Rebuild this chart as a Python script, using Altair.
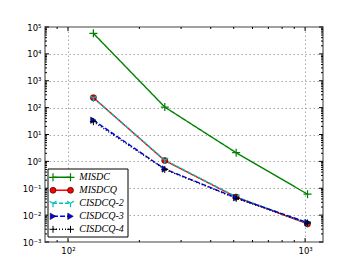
import altair as alt
import pandas as pd

# ---- data ----
ns = [128, 256, 512, 1024]
series_names = ["MISDC", "MISDCQ", "CISDCQ-2", "CISDCQ-3", "CISDCQ-4"]
misdc = [5.8e4, 105, 2.1, 0.060]
misdcq = [235, 1.07, 0.047, 0.0047]
cisdcq2 = [228, 1.12, 0.048, 0.0049]
cisdcq3 = [34, 0.52, 0.044, 0.0053]
cisdcq4 = [30, 0.50, 0.042, 0.0051]

y_major = [1e-3, 1e-2, 1e-1, 1e0, 1e1, 1e2, 1e3, 1e4, 1e5]
y_labels = ["10⁻³", "10⁻²", "10⁻¹", "10⁰", "10¹", "10²", "10³", "10⁴", "10⁵"]
x_major = [100, 1000]
x_labels = ["10²", "10³"]
mantissas = [2, 3, 4, 5, 6, 7, 8, 9]
y_decades = [1e-3, 1e-2, 1e-1, 1e0, 1e1, 1e2, 1e3, 1e4]
x_minor = [90, 200, 300, 400, 500, 600, 700, 800, 900]

colors = ["#008000", "#ff0000", "#00bfbf", "#0000ff", "#000000"]
dashes = [[1, 0], [1, 0], [4, 2], [5, 2], [1, 2]]

rows = []
for name, vals in zip(series_names, [misdc, misdcq, cisdcq2, cisdcq3, cisdcq4]):
    for n, v in zip(ns, vals):
        rows.append({"n": n, "err": v, "series": name})
df = pd.DataFrame(rows)

y_minor = [m * d for d in y_decades for m in mantissas]
ymaj_df = pd.DataFrame({"v": y_major})
ymin_df = pd.DataFrame({"v": y_minor})
xmaj_df = pd.DataFrame({"v": x_major})
xmin_df = pd.DataFrame({"v": x_minor})

W, H = 278, 215
xscale = alt.Scale(type="log", domain=[80, 1190], nice=False)
yscale = alt.Scale(type="log", domain=[1e-3, 1e5], nice=False)


def label_expr(values, labels):
    expr = f"'{labels[-1]}'"
    for v, lab in reversed(list(zip(values[:-1], labels[:-1]))):
        expr = f"datum.value < {v * 1.5} ? '{lab}' : ({expr})"
    return expr


axis_common = dict(grid=True, gridDash=[1.5, 2.5], gridColor="#a8a8a8", gridWidth=1,
                   ticks=False, domain=False, labelFont="DejaVu Sans",
                   labelFontSize=8.5, labelColor="black")

lines = alt.Chart(df).mark_line(strokeWidth=1.4).encode(
    x=alt.X("n:Q", scale=xscale, title="",
            axis=alt.Axis(values=x_major, labelPadding=4,
                          labelExpr=label_expr(x_major, x_labels),
                          **axis_common)),
    y=alt.Y("err:Q", scale=yscale, title="",
            axis=alt.Axis(values=y_major, labelPadding=4,
                          labelExpr=label_expr(y_major, y_labels),
                          **axis_common)),
    color=alt.Color("series:N", sort=series_names,
                    scale=alt.Scale(domain=series_names, range=colors),
                    legend=None),
    strokeDash=alt.StrokeDash("series:N", sort=series_names,
                              scale=alt.Scale(domain=series_names, range=dashes),
                              legend=None),
    order=alt.Order("n:Q"),
)

plus_p = "M-1,0H1M0,-1V1"
tri_p = "M0,0V1M0,0L-0.87,-0.5M0,0L0.87,-0.5"
marker_styles = [
    dict(shape=plus_p, fill="transparent", stroke="#008000", size=64, strokeWidth=1.2),
    dict(shape="circle", fill="#ff0000", stroke="#000000", size=36, strokeWidth=0.6),
    dict(shape=tri_p, fill="transparent", stroke="#00bfbf", size=64, strokeWidth=1.2),
    dict(shape="triangle-right", fill="#0000ff", stroke="#000000", size=40, strokeWidth=0.6),
    dict(shape=plus_p, fill="transparent", stroke="#000000", size=49, strokeWidth=1.0),
]
point_layers = []
for name, st in zip(series_names, marker_styles):
    point_layers.append(
        alt.Chart(df).transform_filter(alt.datum.series == name)
        .mark_point(opacity=1, **st).encode(
            x=alt.X("n:Q", scale=xscale),
            y=alt.Y("err:Q", scale=yscale),
        )
    )


def yticks(data, length):
    left = alt.Chart(data).mark_rule(color="black", strokeWidth=1).encode(
        y=alt.Y("v:Q", scale=yscale),
        x=alt.value(0), x2=alt.value(length))
    right = alt.Chart(data).mark_rule(color="black", strokeWidth=1).encode(
        y=alt.Y("v:Q", scale=yscale),
        x=alt.value(W), x2=alt.value(W - length))
    return [left, right]


def xticks(data, length):
    bottom = alt.Chart(data).mark_rule(color="black", strokeWidth=1).encode(
        x=alt.X("v:Q", scale=xscale),
        y=alt.value(H), y2=alt.value(H - length))
    top = alt.Chart(data).mark_rule(color="black", strokeWidth=1).encode(
        x=alt.X("v:Q", scale=xscale),
        y=alt.value(0), y2=alt.value(length))
    return [bottom, top]


# ---- legend (box, handle lines, markers, labels) ----
LEG_X0, LEG_X1, LEG_Y0, LEG_Y1 = 3, 83, 142, 210
ROW0, ROW_DY = 150.3, 13
H_L, H_R, TXT_X = 8, 25.5, 34.3
legend_layers = [
    alt.Chart(pd.DataFrame({"k": [0]})).mark_rect(
        fill="white", stroke="black", strokeWidth=1).encode(
        x=alt.value(LEG_X0), x2=alt.value(LEG_X1),
        y=alt.value(LEG_Y0), y2=alt.value(LEG_Y1))
]
for i, (name, st, col, dash) in enumerate(zip(series_names, marker_styles,
                                             colors, dashes)):
    yy = ROW0 + ROW_DY * i
    d = pd.DataFrame({"series": [name]})
    legend_layers.append(
        alt.Chart(d).mark_rule(color=col, strokeWidth=1.4, strokeDash=dash).encode(
            x=alt.value(H_L), x2=alt.value(H_R), y=alt.value(yy)))
    for hx in (H_L, H_R):
        legend_layers.append(
            alt.Chart(d).mark_point(opacity=1, **st).encode(
                x=alt.value(hx), y=alt.value(yy)))
    legend_layers.append(
        alt.Chart(d).mark_text(align="left", baseline="middle",
                               font="Liberation Serif", fontStyle="italic",
                               fontSize=10, color="black").encode(
            x=alt.value(TXT_X), y=alt.value(yy), text="series:N"))

layers = ([lines] + point_layers
          + yticks(ymaj_df, 4) + yticks(ymin_df, 2)
          + xticks(xmaj_df, 4) + xticks(xmin_df, 2)
          + legend_layers)

chart = alt.layer(*layers).properties(
    width=W, height=H,
    autosize=alt.AutoSizeParams(type="none"),
    padding={"left": 37, "top": 19, "right": 29, "bottom": 20},
    background="white",
).configure_view(stroke="#808080", strokeWidth=1.6)

chart.save("out.html", embed_options={"renderer": "svg", "actions": False})
